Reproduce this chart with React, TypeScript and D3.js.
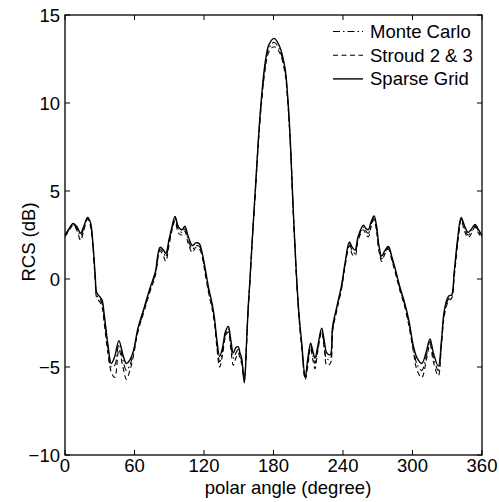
import React from "react";
import * as d3 from "d3";

// polar angle samples (degrees)
const angles = [
  0, 3, 7, 10, 13.5, 16, 19.5, 22, 24, 26,
  27.5, 30, 32, 34, 37, 40, 43, 46.5, 50, 53,
  56, 59, 63, 68, 73, 78, 82, 85, 87, 90,
  92.5, 95, 98, 101, 103.5, 106, 110, 113, 116, 118,
  121, 124, 127, 129, 131, 133.5, 136, 138.5, 141, 143,
  145.3, 147.5, 149.6, 151, 152.5, 154.8, 156.8, 158, 159.7, 162,
  164.5, 166.9, 169.5, 172.6, 176, 180.5, 185, 189.9, 192, 194.5,
  197, 200, 202, 204.3, 207.4, 209.5, 212, 214, 215.8, 218,
  221.6, 224, 226, 229, 231, 234.6, 238.9, 242, 245.5, 248,
  250.4, 253, 257.6, 260, 262, 264, 266.8, 269, 271, 273.4,
  276, 279.2, 282, 285, 289.3, 293, 297, 300.7, 304, 308,
  312, 315.1, 318, 322.3, 325, 327, 329.5, 331.5, 333.8, 336,
  339, 342, 345, 348, 351, 354, 357, 360,
];

const sparseGrid = [
  2.5, 2.8, 3.15, 3.0, 2.6, 2.95, 3.5, 3.2, 2.1, 0.3,
  -0.8, -1.0, -1.2, -2.1, -3.7, -4.8, -4.4, -3.5, -4.3, -4.8,
  -4.6, -4.1, -2.8, -1.7, -0.6, 0.4, 1.8, 1.65, 1.45, 2.3,
  3.0, 3.55, 2.95, 2.8, 3.0, 2.5, 1.9, 2.05, 2.0, 1.6,
  0.6, -0.5, -1.4, -2.2, -3.4, -4.4, -3.9, -3.0, -2.7, -3.4,
  -4.2, -3.9, -3.85, -4.2, -4.5, -5.9, -3.5, -1.8, 0.0, 2.6,
  5.3, 7.9, 10.2, 12.2, 13.3, 13.67, 13.25, 12.0, 10.6, 7.9,
  4.0, 0.0, -2.0, -3.6, -5.6, -4.6, -3.65, -4.1, -4.5, -3.9,
  -2.8, -3.6, -4.2, -4.3, -2.7, -1.6, -0.3, 1.0, 2.1, 1.8,
  1.65, 2.4, 3.05, 2.85, 2.8, 3.2, 3.58, 3.0, 1.9, 1.3,
  1.6, 1.85, 1.3, 0.6, -0.5, -1.3, -2.4, -3.8, -4.5, -4.8,
  -4.1, -3.4, -4.2, -4.95, -3.5, -2.0, -1.2, -0.95, -0.9, 0.4,
  2.3, 3.5, 3.0, 2.65, 2.85, 3.1, 2.8, 2.45,
];

const stroud = [
  2.4, 2.7, 3.05, 2.8, 2.2, 2.7, 3.4, 3.0, 1.9, 0.0,
  -1.1, -1.3, -1.6, -2.6, -4.2, -5.3, -5.6, -4.0, -5.0, -5.7,
  -5.2, -4.4, -3.0, -1.9, -0.8, 0.2, 1.6, 1.3, 1.0, 2.0,
  2.8, 3.3, 2.6, 2.5, 2.7, 2.1, 1.5, 1.8, 1.7, 1.4,
  0.3, -0.8, -1.7, -2.5, -3.8, -5.0, -4.3, -3.3, -3.0, -3.9,
  -4.9, -4.5, -4.2, -4.5, -4.8, -5.6, -3.6, -1.9, -0.1, 2.5,
  5.1, 7.7, 9.9, 11.8, 12.9, 13.2, 12.9, 11.7, 10.3, 7.7,
  3.9, -0.1, -2.2, -3.9, -5.7, -5.0, -3.9, -4.6, -5.1, -4.2,
  -3.0, -4.1, -4.9, -4.8, -3.0, -1.8, -0.5, 0.8, 1.9, 1.4,
  1.3, 2.2, 2.8, 2.5, 2.4, 2.9, 3.4, 2.7, 1.6, 1.0,
  1.4, 1.7, 1.1, 0.4, -0.7, -1.5, -2.7, -4.1, -5.2, -5.6,
  -4.6, -3.7, -4.7, -5.5, -3.8, -2.3, -1.5, -1.2, -1.1, 0.1,
  2.0, 3.35, 2.7, 2.35, 2.6, 2.95, 2.6, 2.35,
];

const monteCarlo = [
  2.45, 2.75, 3.1, 2.9, 2.45, 2.85, 3.45, 3.1, 2.0, 0.15,
  -0.95, -1.1, -1.4, -2.3, -3.9, -5.0, -4.9, -3.7, -4.6, -5.2,
  -4.9, -4.2, -2.9, -1.8, -0.7, 0.3, 1.7, 1.5, 1.25, 2.15,
  2.9, 3.45, 2.8, 2.65, 2.85, 2.3, 1.7, 1.9, 1.85, 1.5,
  0.45, -0.65, -1.55, -2.35, -3.6, -4.7, -4.1, -3.15, -2.85, -3.6,
  -4.5, -4.2, -4.0, -4.35, -4.65, -5.75, -3.55, -1.85, -0.05, 2.55,
  5.2, 7.8, 10.05, 12.0, 13.1, 13.45, 13.05, 11.85, 10.45, 7.8,
  3.95, -0.05, -2.1, -3.75, -5.65, -4.8, -3.75, -4.35, -4.8, -4.05,
  -2.9, -3.85, -4.55, -4.55, -2.85, -1.7, -0.4, 0.9, 2.0, 1.6,
  1.45, 2.3, 2.95, 2.7, 2.6, 3.05, 3.5, 2.85, 1.75, 1.15,
  1.5, 1.78, 1.2, 0.5, -0.6, -1.4, -2.55, -3.95, -4.85, -5.2,
  -4.35, -3.55, -4.45, -5.2, -3.65, -2.15, -1.35, -1.1, -1.0, 0.25,
  2.15, 3.42, 2.85, 2.5, 2.72, 3.02, 2.7, 2.4,
];

const xTicks = [0, 60, 120, 180, 240, 300, 360];
const yTicks = [-10, -5, 0, 5, 10, 15];
const legendLabels = ["Monte Carlo", "Stroud 2 & 3", "Sparse Grid"];
const xLabel = "polar angle (degree)";
const yLabel = "RCS (dB)";

const W = 499;
const H = 502;
const left = 65;
const right = 482;
const top = 15;
const bottom = 455;
const FONT = "'Liberation Sans', Arial, Helvetica, sans-serif";

export default function App() {
  const x = d3.scaleLinear().domain([0, 360]).range([left, right]);
  const y = d3.scaleLinear().domain([-10, 15]).range([bottom, top]);

  const mkLine = (vals: number[]) =>
    d3
      .line<number>()
      .x((_, i) => x(angles[i]))
      .y((v) => y(v))
      .curve(d3.curveCatmullRom.alpha(0.5))(vals) || "";

  const series = [
    { vals: monteCarlo, dash: "7,3,1.5,3", width: 1.1 },
    { vals: stroud, dash: "5,3.5", width: 1.1 },
    { vals: sparseGrid, dash: "", width: 1.4 },
  ];

  const tickLen = 5;

  return (
    <svg
      width={W}
      height={H}
      style={{ position: "absolute", left: 0, top: 0, background: "#fff" }}
      fontFamily={FONT}
    >
      <rect x={0} y={0} width={W} height={H} fill="#fff" />
      <defs>
        <clipPath id="plotclip">
          <rect x={left} y={top} width={right - left} height={bottom - top} />
        </clipPath>
      </defs>

      <g clipPath="url(#plotclip)">
        {series.map((s, i) => (
          <path
            key={i}
            d={mkLine(s.vals)}
            fill="none"
            stroke="#000"
            strokeWidth={s.width}
            strokeDasharray={s.dash || undefined}
            strokeLinejoin="round"
          />
        ))}
      </g>

      {/* ticks */}
      {xTicks.map((t) => (
        <g key={"xt" + t}>
          <line x1={x(t)} x2={x(t)} y1={bottom} y2={bottom - tickLen} stroke="#000" />
          <line x1={x(t)} x2={x(t)} y1={top} y2={top + tickLen} stroke="#000" />
          <text x={x(t)} y={472} fontSize={18.5} textAnchor="middle" fill="#000">
            {t}
          </text>
        </g>
      ))}
      {yTicks.map((t) => (
        <g key={"yt" + t}>
          <line x1={left} x2={left + tickLen} y1={y(t)} y2={y(t)} stroke="#000" />
          <line x1={right} x2={right - tickLen} y1={y(t)} y2={y(t)} stroke="#000" />
          <text x={60} y={y(t) + 6.5} fontSize={18.5} textAnchor="end" fill="#000">
            {t < 0 ? "\u2212" + Math.abs(t) : t}
          </text>
        </g>
      ))}

      {/* frame */}
      <rect
        x={left}
        y={top}
        width={right - left}
        height={bottom - top}
        fill="none"
        stroke="#000"
        strokeWidth={1.3}
      />

      {/* axis labels */}
      <text x={288} y={494} fontSize={18.5} textAnchor="middle" fill="#000">
        {xLabel}
      </text>
      <text
        transform={`translate(35, 242) rotate(-90)`}
        fontSize={18.5}
        textAnchor="middle"
        fill="#000"
      >
        {yLabel}
      </text>

      {/* legend */}
      {legendLabels.map((lab, i) => {
        const ly = 31.5 + i * 23.7;
        return (
          <g key={lab}>
            <line
              x1={333}
              x2={363}
              y1={ly}
              y2={ly}
              stroke="#000"
              strokeWidth={series[i].width}
              strokeDasharray={series[i].dash || undefined}
            />
            <text x={370} y={ly + 6.5} fontSize={18.5} fill="#000">
              {lab}
            </text>
          </g>
        );
      })}
    </svg>
  );
}
